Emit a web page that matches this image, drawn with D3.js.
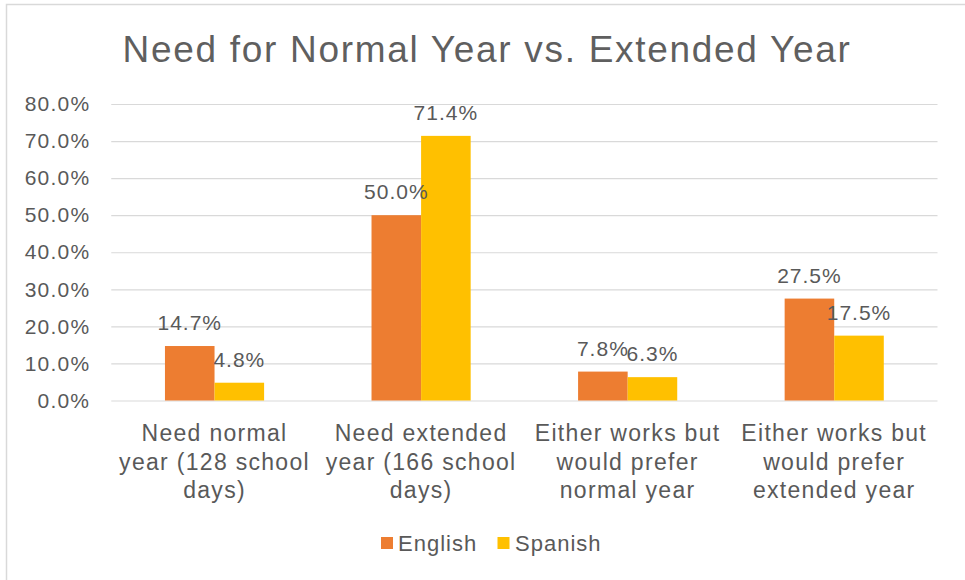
<!DOCTYPE html>
<html>
<head>
<meta charset="utf-8">
<script src="https://cdn.jsdelivr.net/npm/d3@7"></script>
<style>
  html, body { margin: 0; padding: 0; background: #ffffff; }
  svg { display: block; }
  text { font-family: "Liberation Sans", Arial, sans-serif; fill: #595959; }
</style>
</head>
<body>
<svg id="chart" width="965" height="580"></svg>
<script>
// ---- data ----
const title = "Need for Normal Year vs. Extended Year";
const categories = [
  "Need normal year (128 school days)",
  "Need extended year (166 school days)",
  "Either works but would prefer normal year",
  "Either works but would prefer extended year"
];
const categoryLines = [
  ["Need normal", "year (128 school", "days)"],
  ["Need extended", "year (166 school", "days)"],
  ["Either works but", "would prefer", "normal year"],
  ["Either works but", "would prefer", "extended year"]
];
const seriesNames = ["English", "Spanish"];
const english = [0.147, 0.500, 0.078, 0.275];
const spanish = [0.048, 0.714, 0.063, 0.175];
const yTicks = [0, 0.1, 0.2, 0.3, 0.4, 0.5, 0.6, 0.7, 0.8];
const colors = ["#ED7D31", "#FFC000"];

// ---- layout ----
const svg = d3.select("#chart");
const W = 965, H = 580;
const plot = { left: 111.25, right: 937.5, top: 104, bottom: 400.5 };

// outer border of chart area
svg.append("rect")
  .attr("x", 6.5).attr("y", 4.5)
  .attr("width", W + 20).attr("height", H + 20)
  .attr("fill", "#ffffff")
  .attr("stroke", "#d9d9d9").attr("stroke-width", 1.5);

// title
svg.append("text")
  .attr("x", 487).attr("y", 62)
  .attr("text-anchor", "middle")
  .style("font-size", "37px")
  .style("letter-spacing", "1.7px")
  .style("fill", "#5f5f5f")
  .text(title);

const y = d3.scaleLinear().domain([0, 0.8]).range([plot.bottom, plot.top]);
const x0 = d3.scaleBand().domain(categories).range([plot.left, plot.right]).padding(0);
const groupW = x0.bandwidth() * 0.48;
const x1 = d3.scaleBand().domain(seriesNames).range([0, groupW]).padding(0);

// y axis with gridlines
const yAxis = d3.axisLeft(y)
  .tickValues(yTicks)
  .tickFormat(d3.format(".1%"))
  .tickSize(-(plot.right - plot.left))
  .tickPadding(21);
const yg = svg.append("g")
  .attr("transform", `translate(${plot.left},0)`)
  .call(yAxis);
yg.select(".domain").remove();
yg.selectAll(".tick line").attr("stroke", "#d9d9d9").attr("stroke-width", 1.2);
yg.selectAll(".tick text")
  .attr("fill", "#595959")
  .style("font-family", "'Liberation Sans', Arial, sans-serif")
  .style("font-size", "21px")
  .style("letter-spacing", "1.2px");

// bars
const rows = categories.map((c, i) => ({ cat: c, vals: [english[i], spanish[i]] }));
const groups = svg.append("g").selectAll("g")
  .data(rows).join("g")
  .attr("transform", d => `translate(${x0(d.cat) + (x0.bandwidth() - groupW) / 2},0)`);

groups.selectAll("rect")
  .data(d => d.vals.map((v, j) => ({ name: seriesNames[j], v, j })))
  .join("rect")
  .attr("x", d => x1(d.name))
  .attr("width", x1.bandwidth())
  .attr("y", d => y(d.v))
  .attr("height", d => y(0) - y(d.v))
  .attr("fill", d => colors[d.j]);

// data labels
groups.selectAll("text.lbl")
  .data(d => d.vals.map((v, j) => ({ name: seriesNames[j], v, j })))
  .join("text")
  .attr("class", "lbl")
  .attr("x", d => x1(d.name) + x1.bandwidth() / 2)
  .attr("y", d => y(d.v) - 16)
  .attr("text-anchor", "middle")
  .style("font-size", "21px")
  .style("letter-spacing", "1px")
  .text(d => d3.format(".1%")(d.v));

// x axis category labels
const xg = svg.append("g");
categories.forEach((c, i) => {
  const t = xg.append("text")
    .attr("text-anchor", "middle")
    .style("font-size", "23px")
    .style("letter-spacing", "1.3px");
  categoryLines[i].forEach((line, k) => {
    t.append("tspan")
      .attr("x", x0(c) + x0.bandwidth() / 2)
      .attr("y", 441 + k * 28.5)
      .text(line);
  });
});

// legend
const legendItems = [
  { name: seriesNames[0], color: colors[0], sx: 381, tx: 398 },
  { name: seriesNames[1], color: colors[1], sx: 497.5, tx: 515 }
];
const lg = svg.append("g");
legendItems.forEach(it => {
  lg.append("rect")
    .attr("x", it.sx).attr("y", 537)
    .attr("width", 12).attr("height", 12)
    .attr("fill", it.color);
  lg.append("text")
    .attr("x", it.tx).attr("y", 551)
    .style("font-size", "22px")
    .style("letter-spacing", "1px")
    .text(it.name);
});
</script>
</body>
</html>
